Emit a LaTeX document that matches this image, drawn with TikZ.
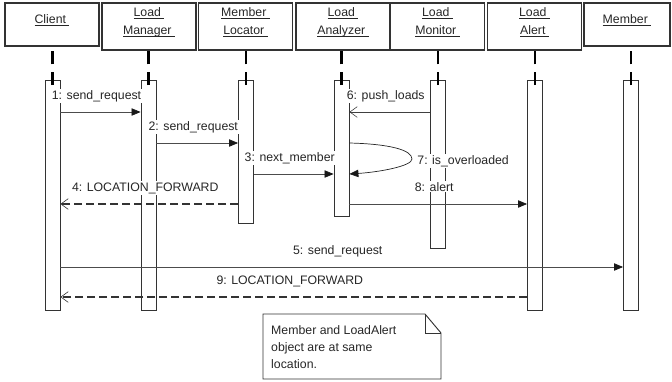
\documentclass[tikz,border=0pt]{standalone}
\usepackage{fontspec}
\setmainfont{Liberation Sans}
\usetikzlibrary{arrows.meta}
\newcommand{\objname}[1]{\underline{\smash{#1}\ }}

\begin{document}
\begin{tikzpicture}[x=0.03cm, y=-0.03cm,
	font=\fontsize{10.5}{15.3}\selectfont,
	obj/.style={draw=black!80, line width=0.9pt, align=center, inner sep=0pt, minimum width=2.82cm, minimum height=1.41cm, text=black!85},
	act/.style={draw=black!80, fill=white, line width=0.7pt, anchor=north, minimum width=0.45cm, inner sep=0pt},
	life/.style={line width=2pt, dash pattern=on 0.4cm off 0.22cm},
	call/.style={color=black!70, line width=0.6pt, -{Triangle[length=0.27cm, width=0.22cm, color=black!90]}},
	reply/.style={color=black!80, line width=1.2pt, dash pattern=on 0.24cm off 0.12cm, -{Straight Barb[length=0.22cm, width=0.32cm, line width=0.5pt]}},
	lbl/.style={midway, anchor=base, yshift=0.39cm, xshift=-0.12cm, fill=white, inner sep=1pt, text=black!85}]
	\useasboundingbox (0,0) rectangle (672,381);
	
	% oggetti
	\node[obj, minimum height=1.29cm] (hClient) at (52,24.5) {\objname{Client}};
	\node[obj] (hManager) at (149,26.5) {\objname{Load}\\\objname{Manager}};
	\node[obj] (hLocator) at (245.5,26.5) {\objname{Member}\\\objname{Locator}};
	\node[obj] (hAnalyzer) at (343,26.5) {\objname{Load}\\\objname{Analyzer}};
	\node[obj] (hMonitor) at (437.5,26.5) {\objname{Load}\\\objname{Monitor}};
	\node[obj] (hAlert) at (534.5,26.5) {\objname{Load}\\\objname{Alert}};
	\node[obj, minimum width=2.58cm, minimum height=1.29cm] (hMember) at (627,24.5) {\objname{Member}};
	
	% barre di attivazione
	\node[act, minimum height=6.9cm] (aClient) at (52.5,80) {};
	\node[act, minimum height=6.9cm] (aManager) at (148.5,80) {};
	\node[act, minimum height=4.29cm] (aLocator) at (246,80) {};
	\node[act, minimum height=4.08cm] (aAnalyzer) at (341.5,80) {};
	\node[act, minimum height=5.04cm] (aMonitor) at (438,80) {};
	\node[act, minimum height=6.9cm] (aAlert) at (535,80) {};
	\node[act, minimum height=6.9cm] (aMember) at (631,80) {};
	
	% linee di vita
	\foreach \o in {Client,Manager,Locator,Analyzer,Monitor,Alert,Member}
		\draw[life] ([yshift=-0.15cm]a\o.north) -- (a\o.north |- h\o.south);
	
	% messaggi
	\draw[call] (aClient.east |- 0,112) -- (aManager.west |- 0,112) node[lbl] (l1) {1: send\_request};
	\draw[call] (aManager.east |- 0,143) -- (aLocator.west |- 0,143) node[lbl] (l2) {2: send\_request};
	\draw[call] (aLocator.east |- 0,174) -- (aAnalyzer.west |- 0,174) node[lbl] (l3) {3: next\_member};
	\draw[reply] (aLocator.west |- 0,204) -- (aClient.east |- 0,204) node[lbl] (l4) {4: LOCATION\_FORWARD};
	\draw[call] (aClient.east |- 0,267) -- (aMember.west |- 0,267) node[lbl] (l5) {5: send\_request};
	\draw[color=black!75, line width=0.6pt, -{Straight Barb[length=0.22cm, width=0.32cm, line width=0.5pt]}] (aMonitor.west |- 0,112) -- (aAnalyzer.east |- 0,112) node[lbl] (l6) {6: push\_loads};
	\draw[call, color=black!85] (aAnalyzer.east |- 0,143) .. controls (390,144) and (412,150) .. (412,159) .. controls (412,166) and (380,172) .. (aAnalyzer.east |- 0,174);
	\node[anchor=base west, fill=white, inner sep=1pt, text=black!85] (l7) at (416,164) {7: is\_overloaded};
	\draw[call] (aAnalyzer.east |- 0,204) -- (aAlert.west |- 0,204) node[lbl] (l8) {8: alert};
	\draw[reply] (aAlert.west |- 0,297) -- (aClient.east |- 0,297) node[lbl] (l9) {9: LOCATION\_FORWARD};
	
	% nota
	\draw[color=black!80, line width=0.8pt] (263,314) -- (425,314) -- (441,333) -- (441,379) -- (263,379) -- cycle;
	\draw[color=black!80, line width=0.6pt] (425,314) -- (425,333) -- (441,333);
	\node[anchor=north west, align=left, inner sep=0pt, text=black!85, font=\fontsize{10.5}{14.5}\selectfont] (note) at (271,325.5) {Member and LoadAlert\\object are at same\\location.};
\end{tikzpicture}
\end{document}
